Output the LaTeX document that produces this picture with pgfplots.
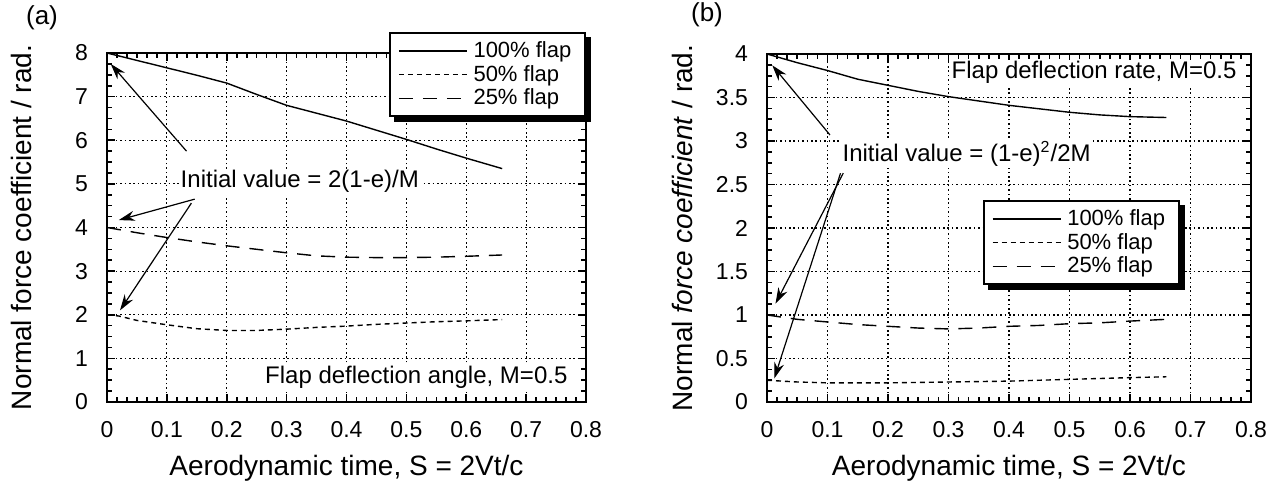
\documentclass[border=0pt]{standalone}
\usepackage{fontspec}
\setmainfont{Liberation Sans}
\usepackage{pgfplots}
\pgfplotsset{compat=1.18}
\usetikzlibrary{arrows.meta}

\tikzset{
  s100/.style={black, line width=0.7pt, solid},
  s50/.style={black, line width=0.7pt, dash pattern=on 2.5pt off 2pt},
  s25/.style={black, line width=0.7pt, dash pattern=on 7pt off 5pt},
  annot/.style={fill=white, inner sep=1pt, font=\fontsize{12}{14}\selectfont},
  arr/.style={-{Stealth[length=8pt,width=5pt]}, line width=0.6pt, black},
}
\pgfplotsset{
  myaxis/.style={
    scale only axis, xmin=0, xmax=0.8, ymin=0,
    xtick={0,0.1,0.2,0.3,0.4,0.5,0.6,0.7,0.8},
    xticklabels={0,0.1,0.2,0.3,0.4,0.5,0.6,0.7,0.8},
    grid=major,
    major grid style={black, line width=0.6pt, dash pattern=on 0.8pt off 1.4pt},
    tick align=inside, minor x tick num=5, minor y tick num=3,
    major tick length=4pt, minor tick length=2.5pt,
    tick style={black, line width=0.8pt},
    axis line style={line width=1pt},
    ticklabel style={font=\fontsize{11.5}{13}\selectfont},
    xticklabel style={yshift=-6pt},
    yticklabel style={xshift=-6pt},
    label style={font=\fontsize{14}{16}\selectfont},
    xlabel style={at={(axis description cs:0.5,-0.189)}, anchor=center},
    legend cell align=left,
    legend style={draw=black, line width=1pt, fill=white,
      font=\fontsize{11}{12}\selectfont,
      inner xsep=4pt, inner ysep=3pt, row sep=0pt,
      nodes={inner ysep=1.2pt, inner xsep=3pt}},
    legend image code/.code={\draw[#1] (0pt,0pt) -- (34pt,0pt);},
  },
}

\begin{document}
\begin{tikzpicture}
\useasboundingbox (0,0) rectangle (639.5pt,243.5pt);

\begin{axis}[myaxis, at={(53.5pt,42.5pt)}, anchor=south west,
  width=239.5pt, height=174.5pt, ymax=8, ytick={0,1,2,3,4,5,6,7,8},
  yticklabels={0,1,2,3,4,5,6,7,8},
  xlabel={Aerodynamic time, S = 2Vt/c},
  ylabel={Normal force coefficient / rad.},
  ylabel style={at={(axis description cs:-0.1775,0.5)}, anchor=center, rotate=0},
  legend style={name=legA, at={(axis description cs:0.589,1.060)}, anchor=north west}]
\addplot[s100] coordinates {(0,8) (0.05,7.83) (0.1,7.66) (0.15,7.49) (0.2,7.31) (0.25,7.05) (0.3,6.8) (0.35,6.62) (0.4,6.44) (0.45,6.23) (0.5,6.02) (0.55,5.8) (0.6,5.59) (0.66,5.35)};
\addlegendentry{100\% flap}
\addplot[s50] coordinates {(0,2) (0.02,1.97) (0.05,1.87) (0.1,1.77) (0.15,1.68) (0.2,1.64) (0.25,1.64) (0.3,1.67) (0.35,1.71) (0.4,1.74) (0.45,1.78) (0.5,1.81) (0.55,1.84) (0.6,1.86) (0.66,1.89)};
\addlegendentry{50\% flap}
\addplot[s25] coordinates {(0,4) (0.05,3.88) (0.1,3.77) (0.15,3.67) (0.2,3.58) (0.25,3.5) (0.3,3.42) (0.35,3.35) (0.4,3.32) (0.45,3.31) (0.5,3.31) (0.55,3.32) (0.6,3.34) (0.66,3.37)};
\addlegendentry{25\% flap}
\node[annot] at (axis cs:0.322,5.05) {Initial value = 2(1-e)/M};
\node[annot, anchor=east] at (axis cs:0.773,0.57) {Flap deflection angle, M=0.5};
\draw[arr] (axis cs:0.1328,5.75) -- (axis cs:0.0062,7.75);
\draw[arr] (axis cs:0.1465,4.65) -- (axis cs:0.0197,4.17);
\draw[arr] (axis cs:0.141,4.56) -- (axis cs:0.0217,2.10);
\end{axis}

\begin{axis}[myaxis, at={(383.5pt,42.5pt)}, anchor=south west,
  width=242pt, height=174pt, ymax=4, ytick={0,0.5,1,1.5,2,2.5,3,3.5,4},
  yticklabels={0,0.5,1,1.5,2,2.5,3,3.5,4},
  xlabel={Aerodynamic time, S = 2Vt/c},
  ylabel={Normal \textit{force coefficient} / rad.},
  ylabel style={at={(axis description cs:-0.1736,0.5)}, anchor=center, rotate=0},
  legend style={name=legB, at={(axis description cs:0.446,0.580)}, anchor=north west}]
\addplot[s100] coordinates {(0,4) (0.05,3.9) (0.1,3.81) (0.15,3.71) (0.2,3.64) (0.25,3.57) (0.3,3.51) (0.35,3.46) (0.4,3.41) (0.45,3.37) (0.5,3.33) (0.55,3.30) (0.6,3.28) (0.66,3.27)};
\addlegendentry{100\% flap}
\addplot[s50] coordinates {(0,0.25) (0.05,0.23) (0.1,0.22) (0.15,0.22) (0.2,0.22) (0.3,0.23) (0.4,0.24) (0.5,0.26) (0.6,0.28) (0.66,0.29)};
\addlegendentry{50\% flap}
\addplot[s25] coordinates {(0,1.0) (0.05,0.95) (0.1,0.92) (0.15,0.89) (0.2,0.87) (0.25,0.85) (0.3,0.84) (0.35,0.85) (0.4,0.87) (0.45,0.88) (0.5,0.9) (0.55,0.91) (0.6,0.93) (0.66,0.95)};
\addlegendentry{25\% flap}
\node[annot, anchor=east] at (axis cs:0.78,3.785) {Flap deflection rate, M=0.5};
\node[annot] at (axis cs:0.33,2.85) {Initial value = (1-e)\textsuperscript{2}/2M};
\draw[arr] (axis cs:0.104,3.07) -- (axis cs:0.0087,3.87);
\draw[arr] (axis cs:0.126,2.63) -- (axis cs:0.014,1.13);
\draw[arr] (axis cs:0.1215,2.63) -- (axis cs:0.012,0.27);
\end{axis}

\fill[black] ([yshift=-2.5pt]legA.north east) rectangle ([shift={(2.5pt,-2.5pt)}]legA.south east);
\fill[black] ([xshift=2.5pt]legA.south west) rectangle ([shift={(2.5pt,-2.5pt)}]legA.south east);
\fill[black] ([yshift=-2.5pt]legB.north east) rectangle ([shift={(2.5pt,-2.5pt)}]legB.south east);
\fill[black] ([xshift=2.5pt]legB.south west) rectangle ([shift={(2.5pt,-2.5pt)}]legB.south east);

\node[font=\fontsize{13}{15}\selectfont] at (21pt,234.5pt) {(a)};
\node[font=\fontsize{13}{15}\selectfont] at (353.5pt,236pt) {(b)};
\end{tikzpicture}
\end{document}
